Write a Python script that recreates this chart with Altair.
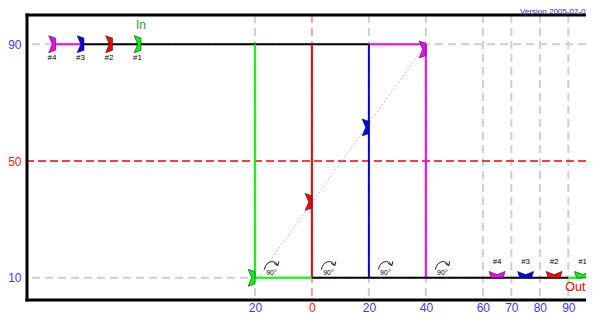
import altair as alt
import pandas as pd

FONT = "Liberation Sans"
BLUE_TXT = "#3a3aff"
MAG, BLU, RED, GRN = "#ff00ff", "#0000ff", "#ff0000", "#00ff00"

# ---- data ----
grid_x_gray = [-20, 20, 40, 60, 70, 80, 90]
grid_x_red = [0]
grid_y_gray = [10, 90]
grid_y_red = [50]

x_ticks = [-20, 0, 20, 40, 60, 70, 80, 90]
y_ticks = [10, 50, 90]

seg_x1 = [-90, -80, 20, -20, 0, 20, 40, -20, 0, 90]
seg_y1 = [90, 90, 90, 90, 90, 90, 90, 10, 10, 10]
seg_x2 = [-80, 20, 40, -20, 0, 20, 40, 0, 90, 95]
seg_y2 = [90, 90, 90, 10, 10, 10, 10, 10, 10, 10]
seg_col = [MAG, "#000000", MAG, GRN, RED, BLU, MAG, GRN, "#000000", GRN]

diag_x = [-19, 40]
diag_y = [10, 90]

in_x = [-90, -80, -70, -60]
in_y = [90, 90, 90, 90]
in_lab = ["#4", "#3", "#2", "#1"]
in_col = [MAG, BLU, RED, GRN]

mid_x = [-20, 0, 20, 40]
mid_y = [10, 36, 61.5, 88.2]
mid_col = [GRN, RED, BLU, MAG]

out_x = [65, 75, 85, 95]
out_y = [10, 10, 10, 10]
out_lab = ["#4", "#3", "#2", "#1"]
out_col = [MAG, BLU, RED, GRN]

rot_x = [-14.2, 5.8, 25.8, 45.8]
rot_arc_y = [14.4, 14.4, 14.4, 14.4]
rot_txt_y = [11.6, 11.6, 11.6, 11.6]
rot_lab = ["90°", "90°", "90°", "90°"]

X_MIN, X_MAX, Y_MIN, Y_MAX = -100, 96.2, 2.4, 100
frame_x1 = [X_MIN, X_MIN, X_MIN]
frame_x2 = [X_MIN, X_MAX + 5, X_MAX + 5]
frame_y1 = [Y_MIN, Y_MAX, Y_MIN]
frame_y2 = [Y_MAX, Y_MAX, Y_MIN]

in_note = ("In", -60, 96.5)
out_note = ("Out", 96.0, 6.9)
version_note = ("Version 2005-07-0", 96.0, 100.5)

# ---- scales / axes ----
xs = alt.Scale(domain=[X_MIN, X_MAX], nice=False, zero=False)
ys = alt.Scale(domain=[Y_MIN, Y_MAX], nice=False, zero=False)

XAX = alt.Axis(values=x_ticks, labelExpr="abs(datum.value)", grid=False, title=None,
               domain=False, ticks=False, labelFontSize=12, labelFont=FONT,
               labelPadding=2,
               labelColor={"condition": {"test": "datum.value == 0", "value": "#ff2020"},
                           "value": BLUE_TXT})
YAX = alt.Axis(values=y_ticks, grid=False, domain=False, ticks=False, title=None,
               labelFontSize=12, labelFont=FONT, labelPadding=6,
               labelColor={"condition": {"test": "datum.value == 50", "value": "#ff2020"},
                           "value": BLUE_TXT})

def X(f):
    return alt.X(f, type="quantitative", scale=xs, axis=XAX, title=None)

def Y(f):
    return alt.Y(f, type="quantitative", scale=ys, axis=YAX, title=None)

# gridlines
gx_gray = alt.Chart(pd.DataFrame({"x": grid_x_gray})).mark_rule(
    color="#cfcfcf", strokeWidth=2, strokeDash=[8, 5]
).encode(x=X("x"))
gx_red = alt.Chart(pd.DataFrame({"x": grid_x_red})).mark_rule(
    color="#f5a0a0", strokeWidth=2, strokeDash=[8, 5]
).encode(x=X("x"))
gy_gray = alt.Chart(pd.DataFrame({"y": grid_y_gray})).mark_rule(
    color="#cfcfcf", strokeWidth=2, strokeDash=[8, 5]
).encode(y=Y("y"))
gy_red = alt.Chart(pd.DataFrame({"y": grid_y_red})).mark_rule(
    color="#ff0000", strokeWidth=1.4, strokeDash=[8, 4]
).encode(y=Y("y"))

diag = alt.Chart(pd.DataFrame({"x": diag_x, "y": diag_y})).mark_line(
    color="#b0b0b0", strokeWidth=0.8, strokeDash=[2, 2]
).encode(x=X("x"), y=Y("y"))

segs = alt.Chart(pd.DataFrame({"x": seg_x1, "y": seg_y1, "x2": seg_x2, "y2": seg_y2, "c": seg_col})).mark_rule(
    strokeWidth=2
).encode(x=X("x"), x2="x2", y=Y("y"), y2="y2", color=alt.Color("c:N", scale=None))

frame = alt.Chart(pd.DataFrame({"x": frame_x1, "x2": frame_x2, "y": frame_y1, "y2": frame_y2})).mark_rule(
    color="black", strokeWidth=3, strokeCap="square"
).encode(x=X("x"), x2="x2", y=Y("y"), y2="y2")

VPATH = "M -0.8,-1 L 0,-0.72 L 0,0.72 L -0.8,1 L -0.38,0 Z"
HPATH = "M -1,-0.8 L -0.75,0 L 0.75,0 L 1,-0.8 L 0,-0.4 Z"
ARC = "M -0.9,0.6 C -0.75,-0.55 0.45,-0.75 0.8,0.05 M 0.35,-0.2 L 0.82,0.1 L 0.95,-0.45"

def markers(xv, yv, cv, path, size):
    return alt.Chart(pd.DataFrame({"x": xv, "y": yv, "c": cv})).mark_point(
        shape=path, filled=True, size=size, opacity=1, strokeWidth=0.6
    ).encode(x=X("x"), y=Y("y"), fill=alt.Fill("c:N", scale=None), stroke=alt.value("#202020"))

m_in = markers(in_x, in_y, in_col, VPATH, 289)
m_mid = markers(mid_x, mid_y, mid_col, VPATH, 289)
m_out = markers(out_x, out_y, out_col, HPATH, 256)

t_in = alt.Chart(pd.DataFrame({"x": in_x, "y": in_y, "t": in_lab})).mark_text(
    font=FONT, fontSize=8, dx=-3.5, dy=14, color="black"
).encode(x=X("x"), y=Y("y"), text="t:N")
t_out = alt.Chart(pd.DataFrame({"x": out_x, "y": out_y, "t": out_lab})).mark_text(
    font=FONT, fontSize=8, dy=-16, color="black"
).encode(x=X("x"), y=Y("y"), text="t:N")

rot = alt.Chart(pd.DataFrame({"x": rot_x, "y": rot_arc_y})).mark_point(
    shape=ARC, filled=False, size=240, opacity=1, strokeWidth=0.9, color="black"
).encode(x=X("x"), y=Y("y"))
rot_t = alt.Chart(pd.DataFrame({"x": rot_x, "y": rot_txt_y, "t": rot_lab})).mark_text(
    font=FONT, fontSize=7, color="black"
).encode(x=X("x"), y=Y("y"), text="t:N")

def note(n, color, size, align, baseline="middle"):
    t, xv, yv = n
    return alt.Chart(pd.DataFrame({"x": [xv], "y": [yv], "t": [t]})).mark_text(
        font=FONT, color=color, fontSize=size, align=align, baseline=baseline
    ).encode(x=X("x"), y=Y("y"), text="t:N")

n_in = note(in_note, "#339933", 12, "center")
n_out = note(out_note, "#ff0000", 12.5, "right")
n_ver = note(version_note, "#2a2ad8", 8, "right", "alphabetic")

chart = alt.layer(
    gx_gray, gx_red, gy_gray, gy_red, diag, segs, frame,
    m_in, m_mid, m_out, t_in, t_out, rot, rot_t, n_in, n_out, n_ver
).properties(
    width=559, height=285,
    autosize=alt.AutoSizeParams(type="none"),
    padding={"left": 19, "top": 7, "right": 0, "bottom": 14},
    background="white"
).configure_view(stroke=None)

chart.save("out.html", embed_options={"renderer": "svg", "actions": False})
